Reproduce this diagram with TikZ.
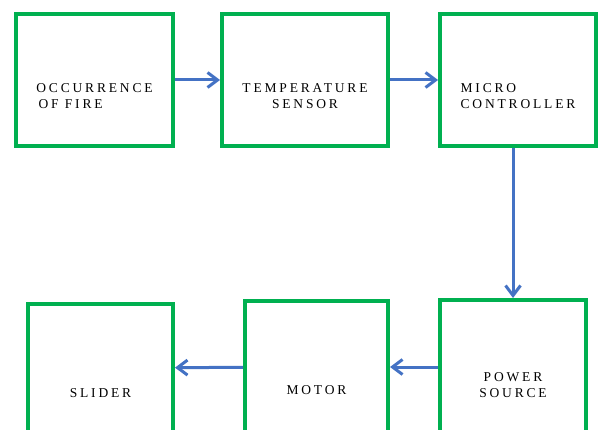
\documentclass[tikz,border=0pt]{standalone}
\usepackage{fontspec}
\usepackage{tikz}
\usetikzlibrary{arrows.meta,positioning,calc}
\newfontfamily\lblfont[LetterSpace=21]{Liberation Serif}
\definecolor{cBoxGreen}{RGB}{0,176,80}
\definecolor{cArrBlue}{RGB}{68,114,196}
\tikzset{
	blk/.style={draw=cBoxGreen, line width=4pt, fill=white, inner sep=0pt},
	blktxt/.style={inner sep=0pt, align=center,
		font={\lblfont\fontsize{13.5}{15.5}\selectfont}},
	barr/.style={-{Straight Barb[length=10pt,width=15pt]}, line width=3pt,
		draw=cArrBlue},
}

\begin{document}
\begin{tikzpicture}[x=1pt,y=-1pt]
			\clip (0,0) rectangle (599,430);
			\fill[white] (0,0) rectangle (599,430);

			% Top row
			\node[blk,minimum width=157pt,minimum height=132pt] at (94.5,80) (fire)  {};
			\node[blk,minimum width=166pt,minimum height=132pt] at (305,80)  (temp)  {};
			\node[blk,minimum width=156pt,minimum height=132pt] at (518,80)  (micro) {};

			% Bottom row (cut by the bottom edge)
			\node[blk,minimum width=145pt,minimum height=128pt] at (100.5,368) (slider) {};
			\node[blk,minimum width=143pt,minimum height=132pt] at (316.5,367) (motor)  {};
			\node[blk,minimum width=146pt,minimum height=134pt] at (513,367)   (power)  {};

			% Texts
			\node[blktxt,align=left] at ([yshift=-16.3pt]fire.center)  (fire-t)  {OCCURRENCE\\\,OF FIRE};
			\node[blktxt]            at ([yshift=-16.3pt]temp.center)  (temp-t)  {TEMPERATURE\\SENSOR};
			\node[blktxt,align=left] at ([yshift=-16.3pt]micro.center) (micro-t) {MICRO\\CONTROLLER};
			\node[blktxt] at ([yshift=-25.5pt]slider.center) (slider-t) {SLIDER};
			\node[blktxt] at ([yshift=-23.5pt]motor.center)  (motor-t)  {MOTOR};
			\node[blktxt] at ([yshift=-18.3pt]power.center)  (power-t)  {POWER\\SOURCE};

			% Arrows
			\draw[barr] (fire)  -- (temp);
			\draw[barr] (temp)  -- (micro);
			\draw[barr] (power.north |- micro.south) -- (power.north);
			\draw[barr] (power) -- (motor);
			\draw[barr] (motor) -- (slider);
		\end{tikzpicture}
\end{document}
